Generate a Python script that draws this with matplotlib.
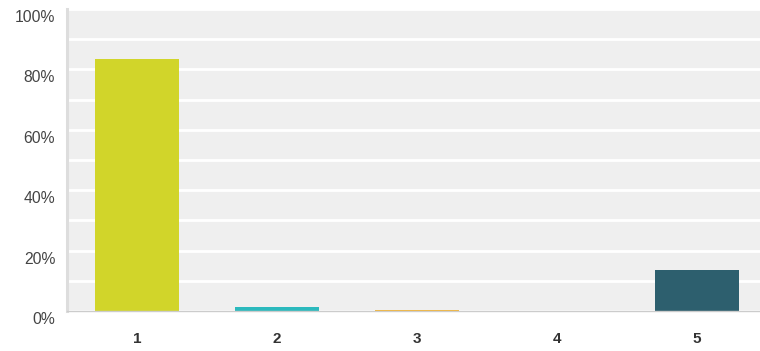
import matplotlib.pyplot as plt
import matplotlib.transforms as mtransforms
import numpy as np

categories = ['1', '2', '3', '4', '5']
values = [83.5, 1.3, 0.4, 0.0, 13.6]
colors = ['#D1D52A', '#2BB9BD', '#F4B431', '#8A8A8A', '#2D5F6E']
yticks = [0, 20, 40, 60, 80, 100]
ytick_labels = ['0%', '20%', '40%', '60%', '80%', '100%']

plt.rcParams['font.family'] = ['Liberation Sans', 'DejaVu Sans']

fig = plt.figure(figsize=(7.6, 3.51), dpi=100)
ax = fig.add_axes([67 / 760, 40 / 351, 1 - 67 / 760, 302 / 351])
ax.set_facecolor('#EFEFEF')

x = np.arange(1, len(categories) + 1)
ax.bar(x, values, width=0.607, color=colors, zorder=3)

ax.set_xlim(0.5, 0.5 + 693 / 140)
ax.set_ylim(0, 100)

ax.set_yticks(yticks)
ax.set_yticklabels(ytick_labels)
ax.set_yticks(np.arange(10, 100, 20), minor=True)
ax.grid(True, which='both', axis='y', color='white', linewidth=2, zorder=1)
ax.tick_params(axis='y', which='both', length=0, pad=8.5, labelsize=11.3, labelcolor='#444444')

ax.set_xticks(x)
ax.set_xticklabels(categories, fontweight='bold')
ax.tick_params(axis='x', length=0, pad=15, labelsize=11, labelcolor='#333333')

# y labels sit a little below their gridlines in the original
offset = mtransforms.ScaledTranslation(0, -7 / 100, fig.dpi_scale_trans)
for lab in ax.get_yticklabels():
    lab.set_transform(lab.get_transform() + offset)

for s in ['top', 'right']:
    ax.spines[s].set_visible(False)
ax.spines['left'].set_color('#DDDDDD')
ax.spines['left'].set_linewidth(2.2)
ax.spines['bottom'].set_color('#CCCCCC')
ax.spines['bottom'].set_linewidth(1)
ax.spines['bottom'].set_zorder(4)

fig.savefig('out.png', dpi=100)
